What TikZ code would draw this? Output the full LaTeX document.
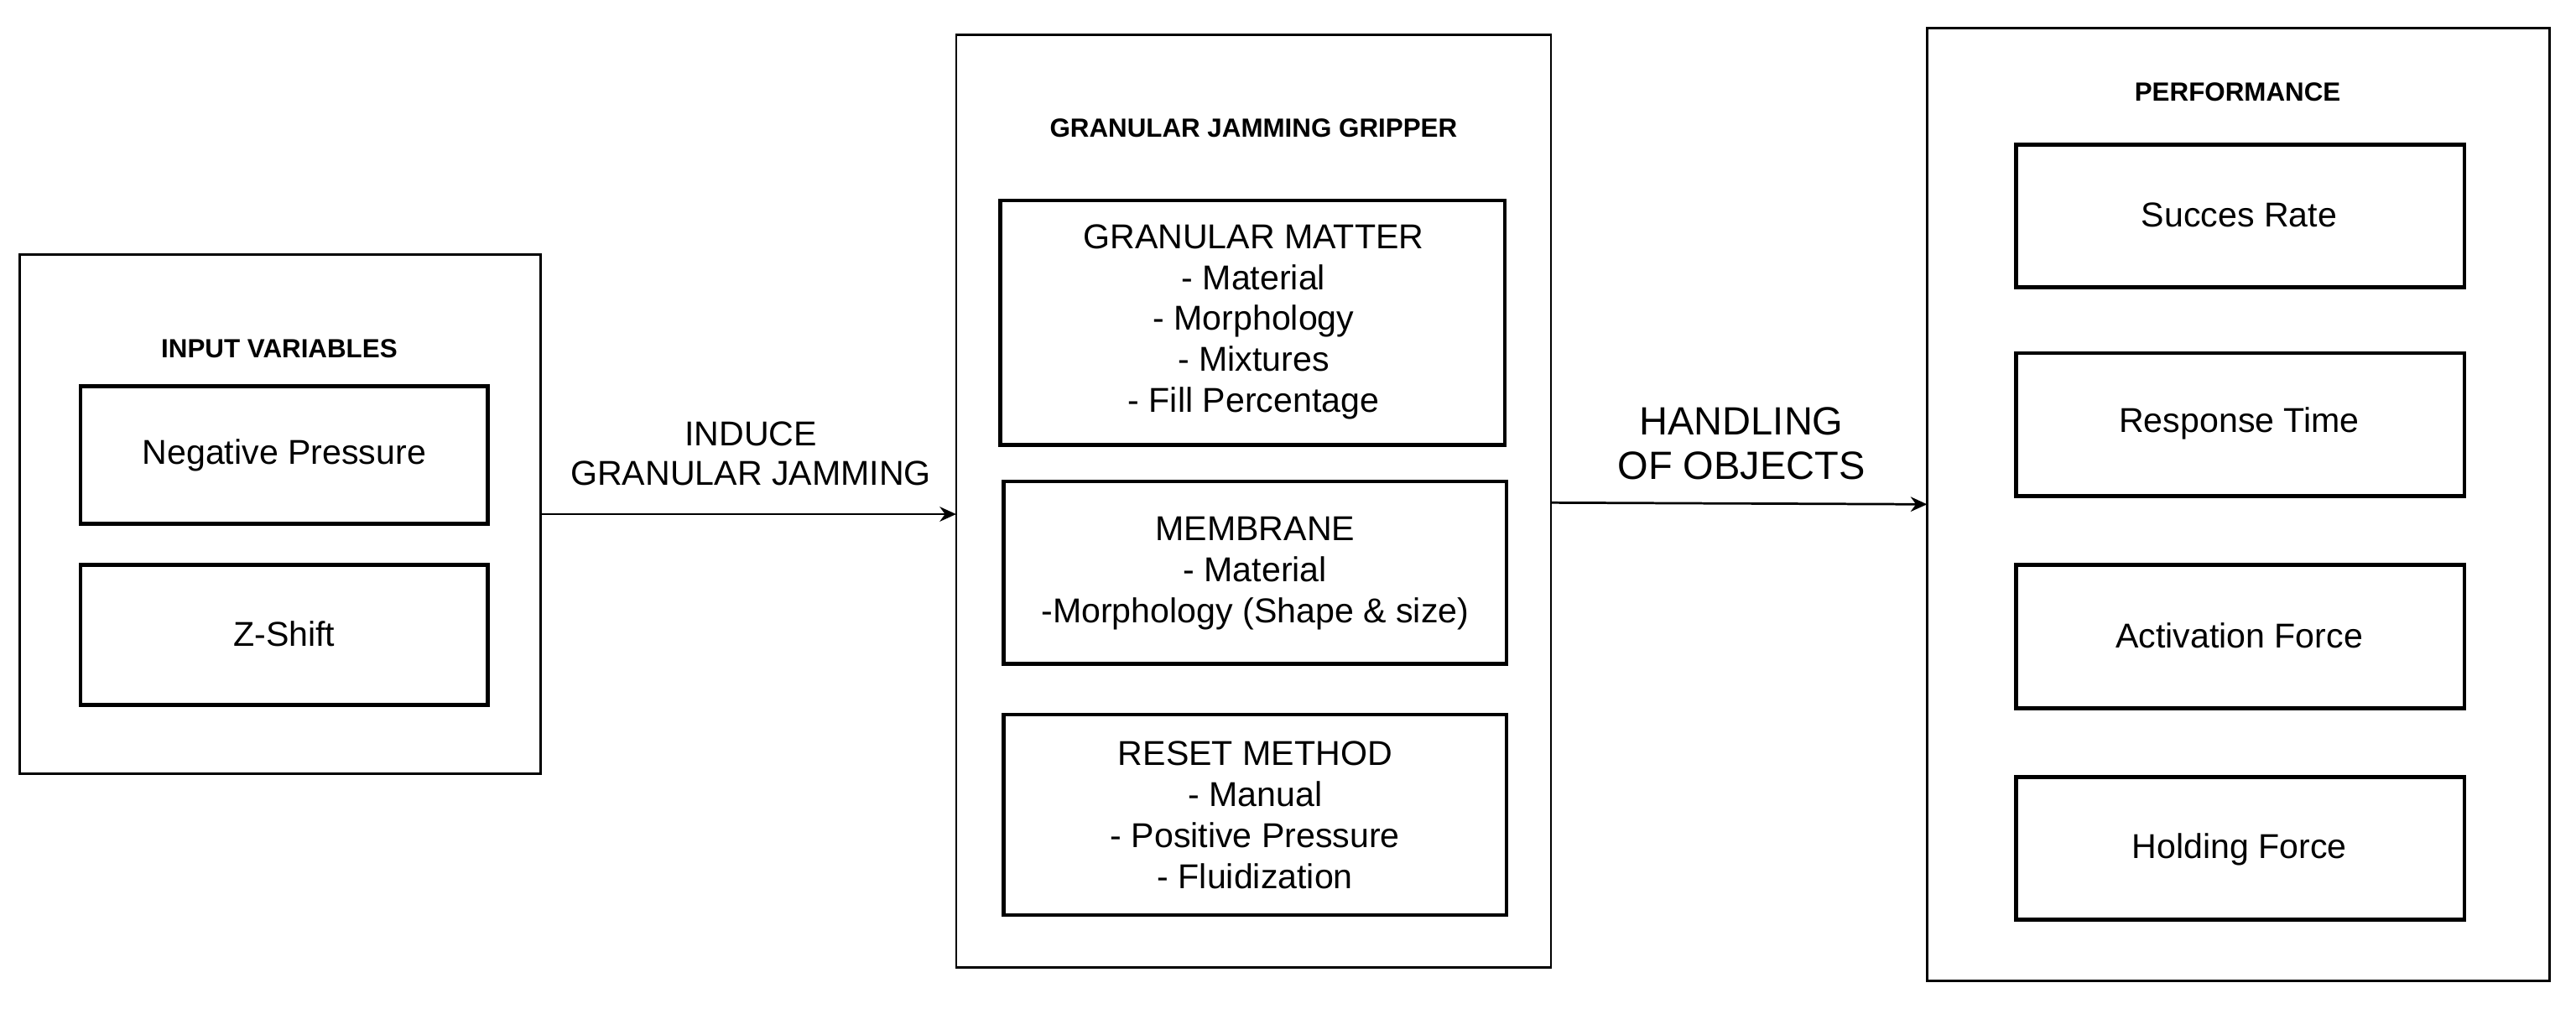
\documentclass[tikz,border=0pt]{standalone}
\usepackage{fontspec}
\setmainfont{Liberation Sans}
\usetikzlibrary{arrows.meta}
\begin{document}
\begin{tikzpicture}[x=0.5pt,y=-0.5pt,
 outer/.style={draw,line width=0.7pt},
 inner/.style={draw,line width=1.2pt},
 txt/.style={align=center,font=\fontsize{10.5}{12.5}\selectfont},
 ttl/.style={font=\bfseries\fontsize{8}{10}\selectfont},
 arr/.style={-{Stealth[length=5pt,width=4.5pt]},line width=0.7pt}]
\useasboundingbox (0,0) rectangle (1568,617);
\draw[outer] (12,155) rectangle (329,471);
\node[ttl] (t1) at (170,212) {INPUT VARIABLES};
\draw[inner] (49,235) rectangle (297,319);
\node[txt] (np) at (173,277) {Negative Pressure};
\draw[inner] (49,344) rectangle (297,429);
\node[txt] (zs) at (173,386) {Z-Shift};
\draw[outer] (582,21) rectangle (944,589);
\node[ttl] (t2) at (763,78) {GRANULAR JAMMING GRIPPER};
\draw[inner] (609,122) rectangle (916,271);
\node[txt] (gm) at (763,196) {GRANULAR MATTER\\- Material\\- Morphology\\- Mixtures\\- Fill Percentage};
\draw[inner] (611,293) rectangle (917,404);
\node[txt] (mb) at (764,349) {MEMBRANE\\- Material\\-Morphology (Shape \& size)};
\draw[inner] (611,435) rectangle (917,557);
\node[txt] (rm) at (764,496) {RESET METHOD\\- Manual\\- Positive Pressure\\- Fluidization};
\draw[outer] (1173,17) rectangle (1552,597);
\node[ttl] (t3) at (1362,56) {PERFORMANCE};
\draw[inner] (1227,88) rectangle (1500,175);
\node[txt] (p1) at (1363,131) {Succes Rate};
\draw[inner] (1227,215) rectangle (1500,302);
\node[txt] (p2) at (1363,258) {Response Time};
\draw[inner] (1227,344) rectangle (1500,431);
\node[txt] (p3) at (1363,387) {Activation Force};
\draw[inner] (1227,473) rectangle (1500,560);
\node[txt] (p4) at (1363,517) {Holding Force};
\coordinate (a1) at (329,313); \coordinate (b1) at (582,313);
\draw[arr] (a1) -- (b1);
\node[txt,font=\fontsize{10.5}{12}\selectfont] (l1) at (457,276) {INDUCE\\GRANULAR JAMMING};
\coordinate (a2) at (944,306); \coordinate (b2) at (1173,307);
\draw[arr] (a2) -- (b2);
\node[txt,font=\fontsize{12}{13.5}\selectfont] (l2) at (1060,270) {HANDLING\\OF OBJECTS};
\end{tikzpicture}
\end{document}
